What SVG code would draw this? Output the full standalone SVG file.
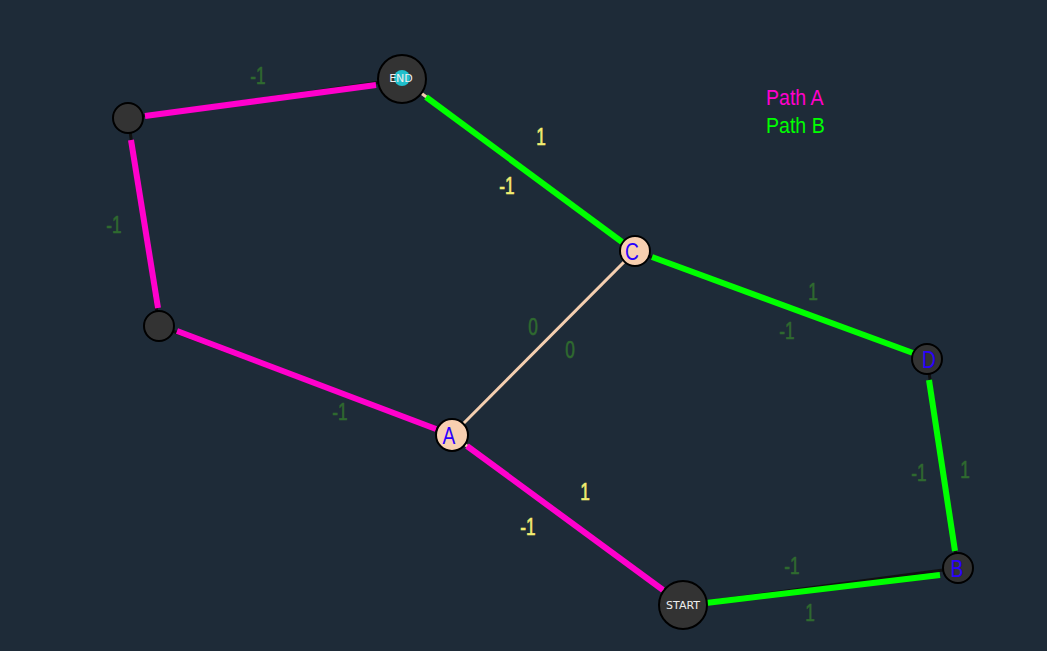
<svg xmlns="http://www.w3.org/2000/svg" width="1047" height="651" viewBox="0 0 1047 651">
<style>
.base{stroke:#f5cfb0;stroke-width:3;fill:none}
.baseD{stroke:#111;stroke-width:3;fill:none}
.pa{stroke:#ff00cc;stroke-width:6;fill:none}
.pb{stroke:#00ff00;stroke-width:6;fill:none}
.lbl{font-family:"Liberation Sans",Arial,sans-serif;font-size:23px;text-anchor:middle;stroke-width:0.6}
.g{fill:#2f6a2f;stroke:#2f6a2f}
.y{fill:#f2ee70;stroke:#f2ee70}
.dark{fill:#333333;stroke:#000;stroke-width:2}
.peach{fill:#f8cfb0;stroke:#000;stroke-width:2}
.nt{font-family:"Liberation Sans",Arial,sans-serif;font-size:24px;fill:#2a00ff;text-anchor:middle}
.wt{font-family:"DejaVu Sans","Liberation Sans",sans-serif;font-size:11px;fill:#eeeeee;text-anchor:middle}
.leg{font-family:"Liberation Sans",Arial,sans-serif;font-size:22px}
</style>
<rect width="1047" height="651" fill="#1e2b38"/>
<g id="connectors">
<line class="base" x1="452" y1="435" x2="635" y2="251"/>
<line class="base" x1="452" y1="435" x2="683" y2="605"/>
<line class="base" x1="635" y1="251" x2="402" y2="79"/>
<line class="baseD" x1="683" y1="605" x2="958" y2="568"/>
<line class="baseD" x1="958" y1="568" x2="927" y2="359"/>
<line class="baseD" x1="927" y1="359" x2="635" y2="251"/>
<line class="baseD" x1="402" y1="79" x2="128" y2="118"/>
<line class="baseD" x1="128" y1="118" x2="159" y2="326"/>
<line class="baseD" x1="159" y1="326" x2="452" y2="435"/>
<line class="pa" x1="145" y1="116" x2="376" y2="85"/>
<line class="pa" x1="131" y1="140" x2="158" y2="308"/>
<line class="pa" x1="177" y1="331" x2="436" y2="429"/>
<line class="pa" x1="467" y1="446" x2="663" y2="590"/>
<line class="pb" x1="706" y1="603" x2="940" y2="575"/>
<line class="pb" x1="955" y1="551" x2="929" y2="380"/>
<line class="pb" x1="913" y1="353" x2="652" y2="257"/>
<line class="pb" x1="622" y1="242" x2="426" y2="97"/>
</g>
<g id="edge-labels">
<text class="lbl g" transform="translate(258,84) scale(0.75,1)">-1</text>
<text class="lbl g" transform="translate(114,233) scale(0.75,1)">-1</text>
<text class="lbl g" transform="translate(340,420) scale(0.75,1)">-1</text>
<text class="lbl y" transform="translate(585,500) scale(0.75,1)">1</text>
<text class="lbl y" transform="translate(528,535) scale(0.75,1)">-1</text>
<text class="lbl y" transform="translate(541,145) scale(0.75,1)">1</text>
<text class="lbl y" transform="translate(507,194) scale(0.75,1)">-1</text>
<text class="lbl g" transform="translate(533,335) scale(0.75,1)">0</text>
<text class="lbl g" transform="translate(570,358) scale(0.75,1)">0</text>
<text class="lbl g" transform="translate(813,300) scale(0.75,1)">1</text>
<text class="lbl g" transform="translate(787,339) scale(0.75,1)">-1</text>
<text class="lbl g" transform="translate(919,481) scale(0.75,1)">-1</text>
<text class="lbl g" transform="translate(965,478) scale(0.75,1)">1</text>
<text class="lbl g" transform="translate(792,574) scale(0.75,1)">-1</text>
<text class="lbl g" transform="translate(810,621) scale(0.75,1)">1</text>
</g>
<g id="node-end">
<circle class="dark" cx="402" cy="79" r="24"/>
<circle cx="402" cy="78" r="8" fill="#1fbfcc"/>
<text class="wt" x="401" y="82">END</text>
</g>
<g id="node-n1"><circle class="dark" cx="128" cy="118" r="15"/></g>
<g id="node-n2"><circle class="dark" cx="159" cy="326" r="15"/></g>
<g id="node-a">
<circle class="peach" cx="452" cy="435" r="16"/>
<text class="nt" transform="translate(449,444) scale(0.8,1)">A</text>
</g>
<g id="node-c">
<circle class="peach" cx="635" cy="251" r="15"/>
<text class="nt" transform="translate(632,260) scale(0.8,1)">C</text>
</g>
<g id="node-d">
<circle class="dark" cx="927" cy="359" r="15"/>
<text class="nt" transform="translate(929,368) scale(0.8,1)">D</text>
</g>
<g id="node-b">
<circle class="dark" cx="958" cy="568" r="15"/>
<text class="nt" transform="translate(957,577) scale(0.8,1)">B</text>
</g>
<g id="node-start">
<circle class="dark" cx="683" cy="605" r="24"/>
<text class="wt" x="683" y="609">START</text>
</g>
<g id="legend">
<text class="leg" fill="#ff00cc" transform="translate(766,105) scale(0.89,1)">Path A</text>
<text class="leg" fill="#00ff00" transform="translate(766,133) scale(0.89,1)">Path B</text>
</g>
</svg>
